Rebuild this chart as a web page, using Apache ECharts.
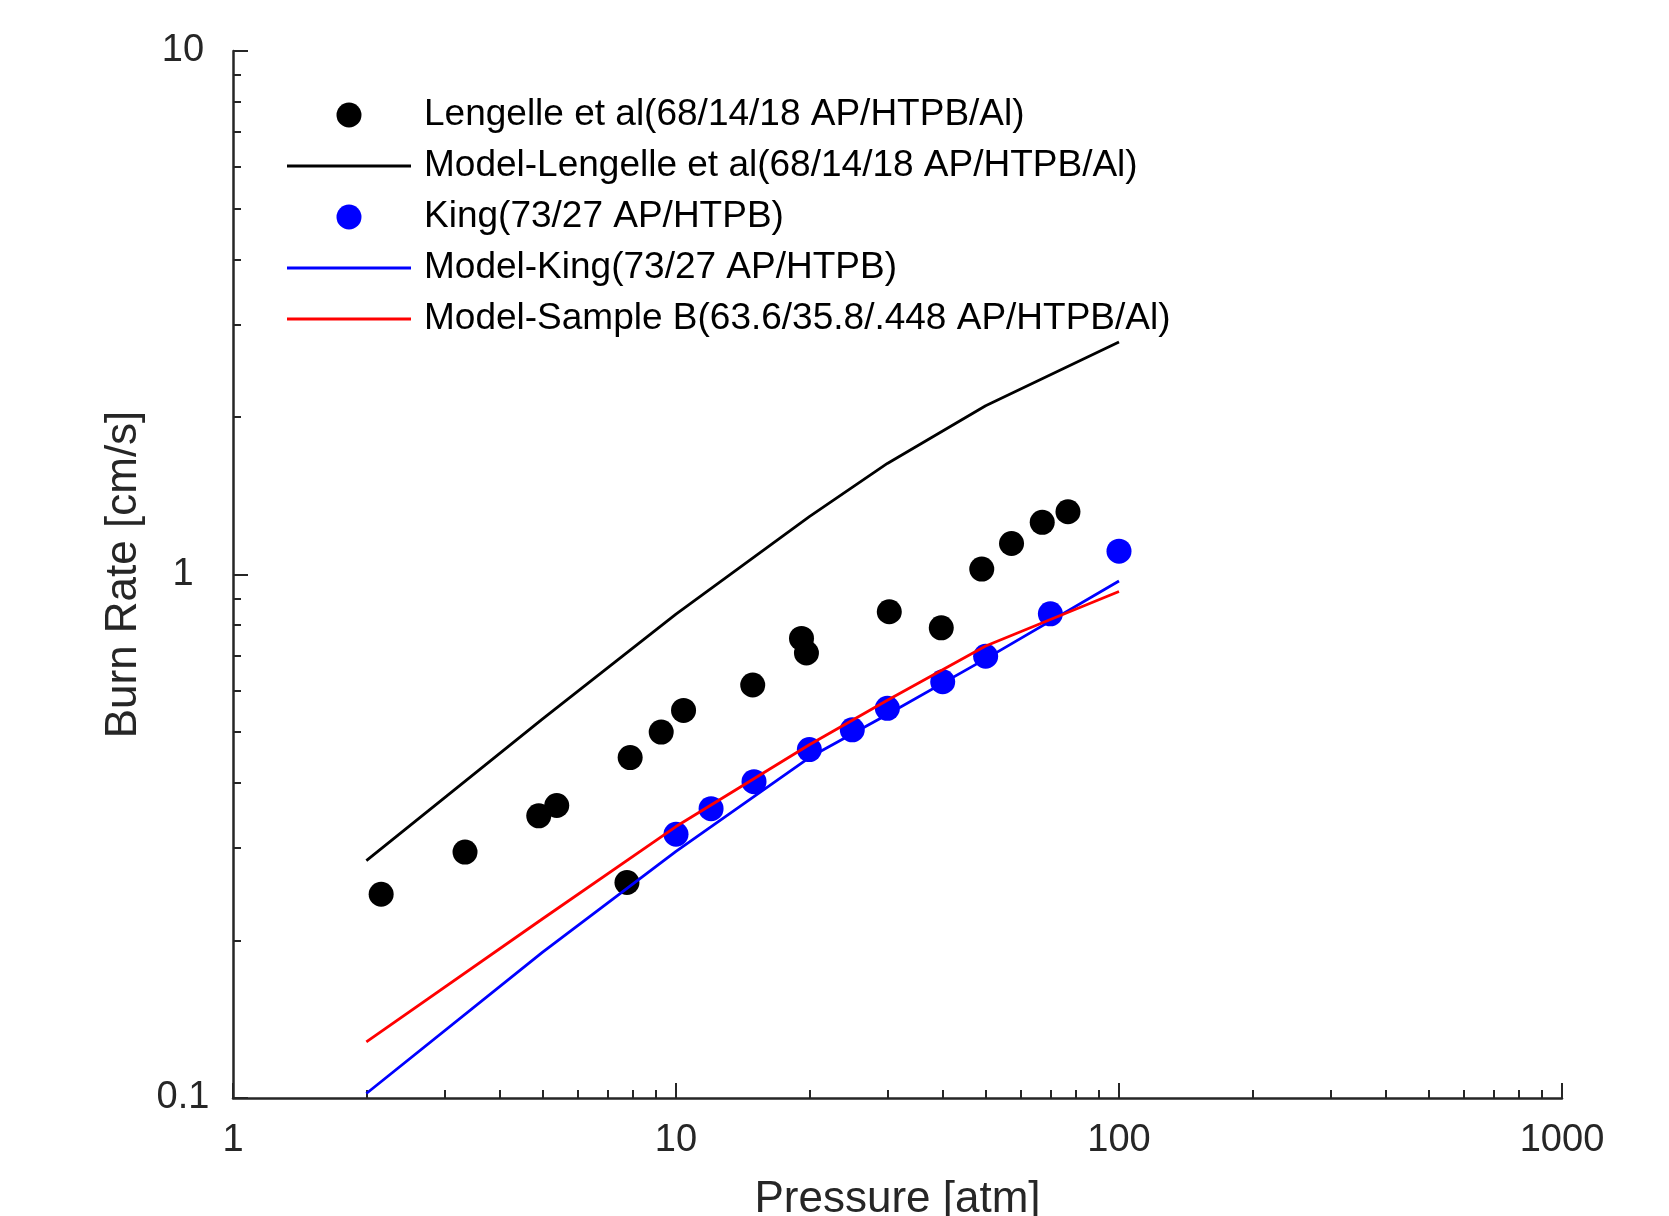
<!DOCTYPE html>
<html>
<head>
<meta charset="utf-8">
<script src="https://cdn.jsdelivr.net/npm/echarts@6/dist/echarts.min.js"></script>
<style>
html,body{margin:0;padding:0;background:#fff;}
#c{width:1669px;height:1216px;}
</style>
</head>
<body>
<div id="c"></div>
<script>
// Lengelle et al experimental data
var lengelleP = [2.16, 3.34, 4.9, 5.38, 7.75, 7.88, 9.26, 10.4, 14.9, 19.2, 19.7, 30.3, 39.7, 49.0, 57.2, 67.1, 76.7];
var lengelleR = [0.245, 0.295, 0.346, 0.362, 0.258, 0.447, 0.50, 0.55, 0.615, 0.755, 0.708, 0.849, 0.791, 1.024, 1.146, 1.258, 1.318];
// King experimental data
var kingP = [10, 12, 15, 20, 25, 30, 40, 50, 70, 100];
var kingR = [0.319, 0.357, 0.402, 0.463, 0.505, 0.555, 0.624, 0.698, 0.841, 1.108];
// Model curves
var modelP = [2, 5, 10, 20, 30, 50, 100];
var modelLengelle = [0.284, 0.53, 0.84, 1.29, 1.63, 2.10, 2.78];
var modelKing = [0.102, 0.19, 0.296, 0.447, 0.54, 0.69, 0.972];
var modelSampleB = [0.128, 0.22, 0.33, 0.473, 0.575, 0.73, 0.928];
// Tick values
var xMinorTicks = [2,3,4,5,6,7,8,9,20,30,40,50,60,70,80,90,200,300,400,500,600,700,800,900];
var yMinorTicks = [0.2,0.3,0.4,0.5,0.6,0.7,0.8,0.9,2,3,4,5,6,7,8,9];

var names = [
  'Lengelle et al(68/14/18 AP/HTPB/Al)',
  'Model-Lengelle et al(68/14/18 AP/HTPB/Al)',
  'King(73/27 AP/HTPB)',
  'Model-King(73/27 AP/HTPB)',
  'Model-Sample B(63.6/35.8/.448 AP/HTPB/Al)'
];

function pairs(xs, ys){ return xs.map(function(x,i){ return [x, ys[i]]; }); }

var FONT = "'Liberation Sans', Arial, Helvetica, sans-serif";
var AXC = '#262626';
var LINE_ICON = 'path://M0,0 L0,0 M0,10.6 L124,10.6 L124,13.4 L0,13.4 Z M0,24 L0,24';

var chart = echarts.init(document.getElementById('c'), null, {renderer:'canvas'});
chart.setOption({
  animation: false,
  backgroundColor: '#ffffff',
  textStyle: {fontFamily: FONT},
  grid: {left: 233, right: 107, top: 51, bottom: 118, containLabel: false, outerBoundsMode: 'none'},
  legend: {
    orient: 'vertical',
    left: 287,
    top: 95,
    padding: 0,
    itemWidth: 124,
    itemHeight: 25,
    itemGap: 11,
    symbolKeepAspect: false,
    textStyle: {fontSize: 37, color: '#000', fontFamily: FONT, lineHeight: 40, padding: [0,0,0,8]},
    data: [
      {name: names[0], icon: 'circle'},
      {name: names[1], icon: LINE_ICON, itemStyle: {color: '#000000'}},
      {name: names[2], icon: 'circle'},
      {name: names[3], icon: LINE_ICON, itemStyle: {color: '#0000ff'}},
      {name: names[4], icon: LINE_ICON, itemStyle: {color: '#ff0000'}}
    ]
  },
  xAxis: [{
    type: 'log', logBase: 10, min: 1, max: 1000, position: 'bottom',
    name: 'Pressure [atm]', nameLocation: 'middle', nameGap: 80,
    nameTextStyle: {fontSize: 44, color: AXC, fontFamily: FONT},
    axisLine: {show: true, lineStyle: {color: AXC, width: 2.5}},
    axisTick: {show: true, inside: true, length: 15, lineStyle: {color: AXC, width: 2}},
    axisLabel: {fontSize: 38, color: AXC, margin: 24, fontFamily: FONT, formatter: function(v){ return String(v); }},
    splitLine: {show: false}
  },{
    type: 'log', logBase: 10, min: 1, max: 1000, position: 'bottom',
    axisLine: {show: false},
    axisTick: {show: true, inside: true, length: 8, customValues: xMinorTicks, lineStyle: {color: AXC, width: 2}},
    axisLabel: {show: false},
    splitLine: {show: false}
  }],
  yAxis: [{
    type: 'log', logBase: 10, min: 0.1, max: 10, position: 'left',
    name: 'Burn Rate [cm/s]', nameLocation: 'middle', nameGap: 86, nameRotate: 90,
    nameTextStyle: {fontSize: 44, color: AXC, fontFamily: FONT},
    axisLine: {show: true, lineStyle: {color: AXC, width: 2.5}},
    axisTick: {show: true, inside: true, length: 15, lineStyle: {color: AXC, width: 2}},
    axisLabel: {fontSize: 38, color: AXC, margin: 50, align: 'center', fontFamily: FONT, formatter: function(v){ return String(v); }},
    splitLine: {show: false}
  },{
    type: 'log', logBase: 10, min: 0.1, max: 10, position: 'left',
    axisLine: {show: false},
    axisTick: {show: true, inside: true, length: 8, customValues: yMinorTicks, lineStyle: {color: AXC, width: 2}},
    axisLabel: {show: false},
    splitLine: {show: false}
  }],
  series: [
    {name: names[0], type: 'scatter', data: pairs(lengelleP, lengelleR), symbol: 'circle', symbolSize: 25,
     itemStyle: {color: '#000000', opacity: 1}},
    {name: names[1], type: 'line', data: pairs(modelP, modelLengelle), symbol: 'none', showSymbol: false,
     lineStyle: {color: '#000000', width: 2.8}, itemStyle: {color: '#000000'}},
    {name: names[2], type: 'scatter', data: pairs(kingP, kingR), symbol: 'circle', symbolSize: 25,
     itemStyle: {color: '#0000ff', opacity: 1}},
    {name: names[3], type: 'line', data: pairs(modelP, modelKing), symbol: 'none', showSymbol: false,
     lineStyle: {color: '#0000ff', width: 2.8}, itemStyle: {color: '#0000ff'}},
    {name: names[4], type: 'line', data: pairs(modelP, modelSampleB), symbol: 'none', showSymbol: false,
     lineStyle: {color: '#ff0000', width: 2.8}, itemStyle: {color: '#ff0000'}}
  ]
});
</script>
</body>
</html>
